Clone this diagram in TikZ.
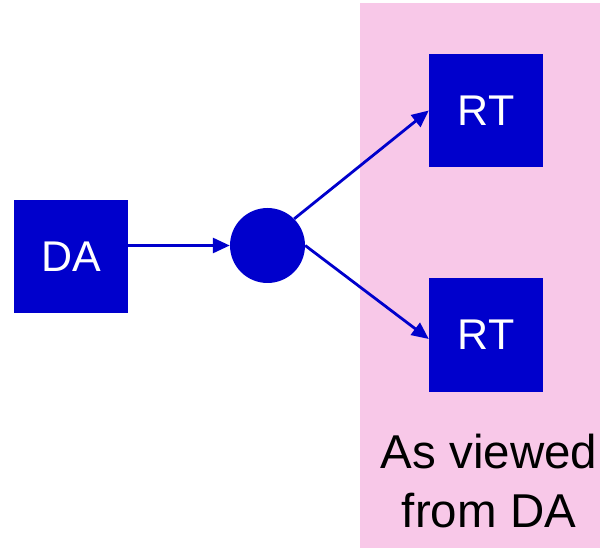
\documentclass[tikz,border=0pt]{standalone}
\usepackage{fontspec}
\setmainfont{Liberation Sans}
\usetikzlibrary{arrows.meta}
\definecolor{nodeblue}{RGB}{0,0,204}
\definecolor{panelpink}{RGB}{248,200,232}
\begin{document}
\begin{tikzpicture}[x=1pt,y=-1pt,
  box/.style={fill=nodeblue,draw=none,minimum width=114pt,minimum height=113pt,inner sep=0pt,text=white,font=\fontsize{43}{50}\selectfont},
  conn/.style={draw=nodeblue,line width=2.8pt,-{Triangle[length=17pt,width=15pt]}}]
\useasboundingbox (0,0) rectangle (600,548);
\fill[panelpink] (360,3) rectangle (600,548);
\node[box] (da) at (71,256.5) {DA};
\node[box] (rt1) at (486,110.5) {RT};
\node[box] (rt2) at (486,335) {RT};
\node[circle,fill=nodeblue,minimum size=75pt,inner sep=0pt] (hub) at (267.5,245.5) {};
\node[align=center,font=\fontsize{47.5}{59}\selectfont,text=black,anchor=base] (cap) at (489,527) {As viewed\\from DA};
\draw[conn] (da.east |- hub.west) -- (hub.west);
\draw[conn] (hub.45) -- (rt1.west);
\draw[conn] (hub.east) -- ([yshift=-4pt]rt2.west);
\end{tikzpicture}
\end{document}
